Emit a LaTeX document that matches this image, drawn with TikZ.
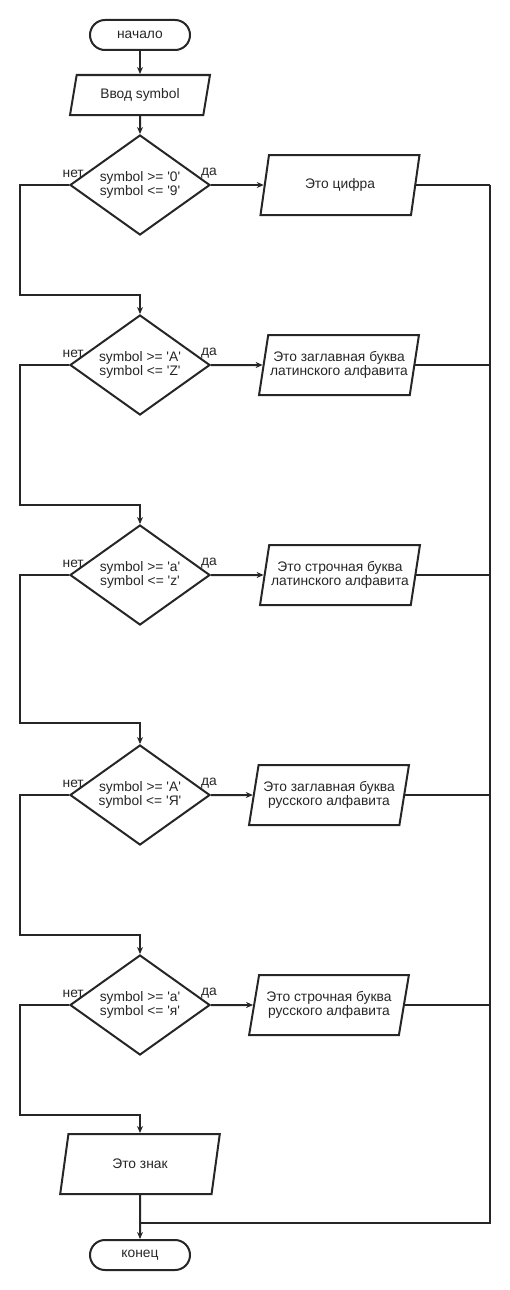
\documentclass[tikz,border=0pt]{standalone}
\usepackage{fontspec}
\setmainfont{Liberation Sans}
\usetikzlibrary{shapes.geometric,arrows.meta}
\newcommand{\qs}{\textquotesingle}
\begin{document}
\begin{tikzpicture}[x=1pt,y=-1pt,
  every node/.style={font=\fontsize{13.8}{14.5}\selectfont, text=black!85},
  line/.style={draw=black!85, line width=2pt},
  arr/.style={line, -{Stealth[length=7pt,width=6pt]}},
  term/.style={line, rectangle, rounded corners=15pt, minimum width=100pt, minimum height=30pt, inner sep=0pt},
  io/.style={line, trapezium, trapezium left angle=72, trapezium right angle=108,
    trapezium stretches=true, minimum width=160pt, minimum height=60pt, inner sep=0pt, align=center},
  decision/.style={line, diamond, shape aspect=1.4, minimum width=140pt, minimum height=100pt, inner sep=0pt, align=center},
  lbl/.style={font=\fontsize{13.8}{14.5}\selectfont}
]
\useasboundingbox (0,0) rectangle (510,1290);

% terminals and input
\node[term] (start) at (140,35) {начало};
\node[io, minimum width=140pt, minimum height=40pt] (inp) at (140,95) {Ввод symbol};

% decisions
\node[decision] (d1) at (140,185) {symbol >= \qs0\qs\\symbol <= \qs9\qs};
\node[decision] (d2) at (140,365) {symbol >= \qs A\qs\\symbol <= \qs Z\qs};
\node[decision] (d3) at (140,575) {symbol >= \qs a\qs\\symbol <= \qs z\qs};
\node[decision] (d4) at (140,795) {symbol >= \qs А\qs\\symbol <= \qs Я\qs};
\node[decision] (d5) at (140,1005) {symbol >= \qs а\qs\\symbol <= \qs я\qs};

% outputs
\node[io] (o1) at (340,185) {Это цифра};
\node[io] (o2) at (339,365) {Это заглавная буква\\латинского алфавита};
\node[io] (o3) at (340,575) {Это строчная буква\\латинского алфавита};
\node[io] (o4) at (329,795) {Это заглавная буква\\русского алфавита};
\node[io] (o5) at (329,1005) {Это строчная буква\\русского алфавита};
\node[io] (sign) at (140,1164) {Это знак};
\node[term] (stop) at (140,1255) {конец};

% branch labels
\foreach \d in {d1,d2,d3,d4,d5}{
  \node[lbl, anchor=south east, inner sep=1pt] at ([xshift=16pt,yshift=6pt]\d.west) {нет};
  \node[lbl, anchor=south west, inner sep=1pt] at ([xshift=-11pt,yshift=6pt]\d.east) {да};
}

% routing points
\coordinate (l1) at (20,295);
\coordinate (l2) at (20,505);
\coordinate (l3) at (20,723);
\coordinate (l4) at (20,935);
\coordinate (l5) at (20,1115);
\coordinate (bustop) at (490,185);
\coordinate (busbot) at (490,1223);
\coordinate (join) at (140,1223);

% main flow
\draw[arr] (start) -- (inp);
\draw[arr] (inp) -- (d1);
\draw[arr] (d1.west) -| (l1) -- (l1 -| d2.north) -- (d2.north);
\draw[arr] (d2.west) -| (l2) -- (l2 -| d3.north) -- (d3.north);
\draw[arr] (d3.west) -| (l3) -- (l3 -| d4.north) -- (d4.north);
\draw[arr] (d4.west) -| (l4) -- (l4 -| d5.north) -- (d5.north);
\draw[arr] (d5.west) -| (l5) -- (l5 -| sign.north) -- (sign.north);

% yes branches
\foreach \i in {1,...,5}{
  \draw[arr] (d\i.east) -- (o\i.west);
  \draw[line] (o\i.east) -- (o\i.east -| bustop);
}

% collector to the end
\draw[line] (bustop) -- (busbot) -- (join);
\draw[arr] (sign.south) -- (stop.north);
\end{tikzpicture}
\end{document}
